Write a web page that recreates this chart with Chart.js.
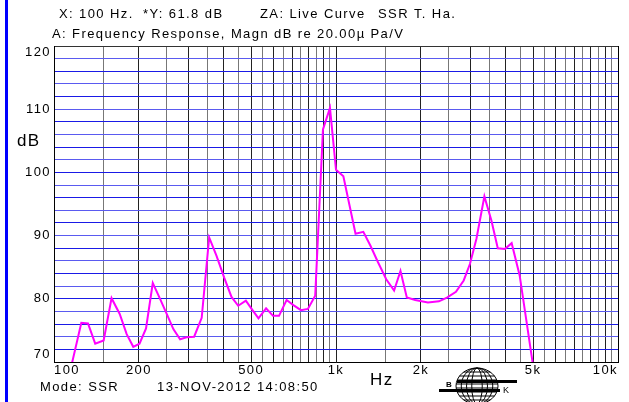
<!DOCTYPE html>
<html>
<head>
<meta charset="utf-8">
<script src="https://cdn.jsdelivr.net/npm/chart.js@4/dist/chart.umd.min.js"></script>
<style>
  html, body { margin: 0; padding: 0; background: #fff; }
  canvas { display: block; }
</style>
</head>
<body>
<canvas id="myChart" width="629" height="402"></canvas>
<script>
// frequency response
var freqs = [112, 125, 132, 140, 150, 160, 171, 181, 191, 201, 212, 224, 236, 251, 265, 280, 295, 314, 334, 355,
             377, 401, 426, 450, 479, 502, 531, 565, 598, 628, 668, 706, 751, 795, 844, 899, 952, 1000, 1062, 1173,
             1250, 1325, 1405, 1507, 1607, 1693, 1783, 1909, 2118, 2318, 2474, 2663, 2837, 2985, 3148, 3359, 3557, 3747, 3976, 4197,
             4480, 4980, 5150];
var magnDb = [67.0, 76.2, 76.1, 72.9, 73.4, 80.1, 77.6, 74.4, 72.4, 72.9, 75.3, 82.5, 80.3, 77.6, 75.2, 73.6, 73.9, 74.0, 77.0, 89.7,
              86.8, 83.4, 80.3, 78.9, 79.7, 78.4, 76.9, 78.5, 77.3, 77.3, 79.8, 79.0, 78.2, 78.4, 80.5, 106.8, 110.2, 100.4, 99.4, 90.3,
              90.6, 88.4, 85.9, 83.1, 81.3, 84.4, 80.2, 79.8, 79.4, 79.6, 80.2, 81.1, 82.9, 85.5, 89.5, 96.2, 92.4, 88.0, 87.9, 88.8,
              83.7, 69.9, 66.0];

var xLabels = {100: '100', 200: '200', 500: '500', 1000: '1k', 2000: '2k', 5000: '5k', 10000: '10k'};
var yLabels = [70, 80, 90, 100, 110, 120];

var points = freqs.map(function(f, i){ return {x: f, y: magnDb[i]}; });

var FONT = 'Liberation Sans, Arial, sans-serif';
var SPACING = '1.4px';

var textPlugin = {
    id: 'texts',
    beforeLayout: function(chart){
        chart.ctx.letterSpacing = SPACING;
    },
    beforeDraw: function(chart){
        var c = chart.ctx;
        c.letterSpacing = SPACING;
        c.save();
        c.fillStyle = '#fff';
        c.fillRect(0, 0, chart.width, chart.height);
        c.restore();
    },
    afterDraw: function(chart){
        var c = chart.ctx;
        var ys = chart.scales.y, area = chart.chartArea;
        c.save();
        // blue left border
        c.fillStyle = '#0000ff';
        c.fillRect(5, 0, 3, chart.height);

        c.fillStyle = '#000';
        c.letterSpacing = SPACING;
        c.textBaseline = 'alphabetic';
        c.font = '13px ' + FONT;
        c.fillText('X: 100 Hz.', 59, 18);
        c.fillText('*Y: 61.8 dB', 143, 18);
        c.fillText('ZA: Live Curve', 260, 18);
        c.fillText('SSR T. Ha.', 378, 18);
        c.fillText('A: Frequency Response, Magn dB re 20.00\u00b5 Pa/V', 52, 38);

        c.fillText('Mode: SSR', 40, 391);
        c.fillText('13-NOV-2012 14:08:50', 157, 391);

        // y tick labels, kept inside the frame at both ends
        c.textAlign = 'right';
        c.textBaseline = 'middle';
        yLabels.forEach(function(v){
            var py = ys.getPixelForValue(v);
            py = Math.min(Math.max(py, area.top + 6), area.bottom - 8);
            c.fillText(String(v), 51, py);
        });
        c.textAlign = 'left';
        c.textBaseline = 'alphabetic';

        c.font = '17px ' + FONT;
        c.fillText('Hz', 370, 385);
        c.fillText('dB', 17, 146);

        // B&K logo
        c.letterSpacing = '0px';
        var cx = 477, cy = 386, rx = 21, ry = 18;
        c.strokeStyle = '#000';
        c.lineWidth = 1;
        c.beginPath();
        c.ellipse(cx, cy, rx, ry, 0, 0, Math.PI * 2);
        c.stroke();
        [0.25, 0.5, 0.75].forEach(function(k){
            c.beginPath();
            c.ellipse(cx, cy, rx * k, ry, 0, 0, Math.PI * 2);
            c.stroke();
        });
        for (var dy = -14; dy <= 14; dy += 4) {
            var hw = rx * Math.sqrt(1 - (dy * dy) / (ry * ry));
            c.beginPath();
            c.moveTo(cx - hw, cy + dy);
            c.lineTo(cx + hw, cy + dy);
            c.stroke();
        }
        c.fillRect(457, 380, 60, 3);
        c.fillRect(439, 389, 61, 3);
        c.font = 'bold 8px ' + FONT;
        c.fillText('B', 446, 387);
        c.font = '9px ' + FONT;
        c.fillText('K', 503, 393);
        c.restore();
    }
};

var ctx = document.getElementById('myChart').getContext('2d');
var chart = new Chart(ctx, {
    type: 'line',
    data: {
        datasets: [{
            label: 'Frequency Response',
            data: points,
            borderColor: '#ff00ff',
            borderWidth: 2,
            pointRadius: 0,
            tension: 0,
            fill: false
        }]
    },
    options: {
        responsive: false,
        animation: false,
        layout: { padding: { left: 0, top: 46, right: 11, bottom: 0 } },
        plugins: { legend: { display: false }, tooltip: { enabled: false } },
        scales: {
            x: {
                type: 'logarithmic',
                min: 100,
                max: 10000,
                afterBuildTicks: function(scale){
                    var t = [];
                    for (var v = 100; v < 1000; v += 50) t.push({value: v});
                    for (var w = 1000; w <= 10000; w += 500) t.push({value: w});
                    scale.ticks = t;
                },
                afterFit: function(scale){ scale.height = 40; },
                ticks: {
                    autoSkip: false,
                    maxRotation: 0,
                    align: 'inner',
                    padding: 1,
                    color: '#000',
                    font: { family: FONT, size: 13 },
                    callback: function(value){ return xLabels[value] || ''; }
                },
                grid: {
                    drawTicks: false,
                    color: function(c){
                        var v = c.tick ? c.tick.value : 0;
                        if (v === 100 || v === 10000) return '#000';
                        return (v < 1000 ? v % 100 === 0 : v % 1000 === 0) ? '#222' : '#777';
                    },
                    lineWidth: 1
                },
                border: { color: '#000', width: 1 }
            },
            y: {
                type: 'linear',
                min: 70,
                max: 120,
                afterBuildTicks: function(scale){
                    var t = [];
                    for (var v = 70; v <= 120; v += 2) t.push({value: v});
                    scale.ticks = t;
                },
                afterFit: function(scale){ scale.width = 54; },
                ticks: {
                    autoSkip: false,
                    padding: 5,
                    color: '#000',
                    font: { family: FONT, size: 13 },
                    callback: function(){ return ''; }
                },
                grid: {
                    drawTicks: false,
                    color: function(c){
                        var v = c.tick ? c.tick.value : 0;
                        if (v === 120 || v === 70) return '#333';
                        return (v % 4 === 0) ? '#1a1ae6' : '#5a5af0';
                    },
                    lineWidth: 1
                },
                border: { color: '#000', width: 1 }
            }
        }
    },
    plugins: [textPlugin]
});
</script>
</body>
</html>
